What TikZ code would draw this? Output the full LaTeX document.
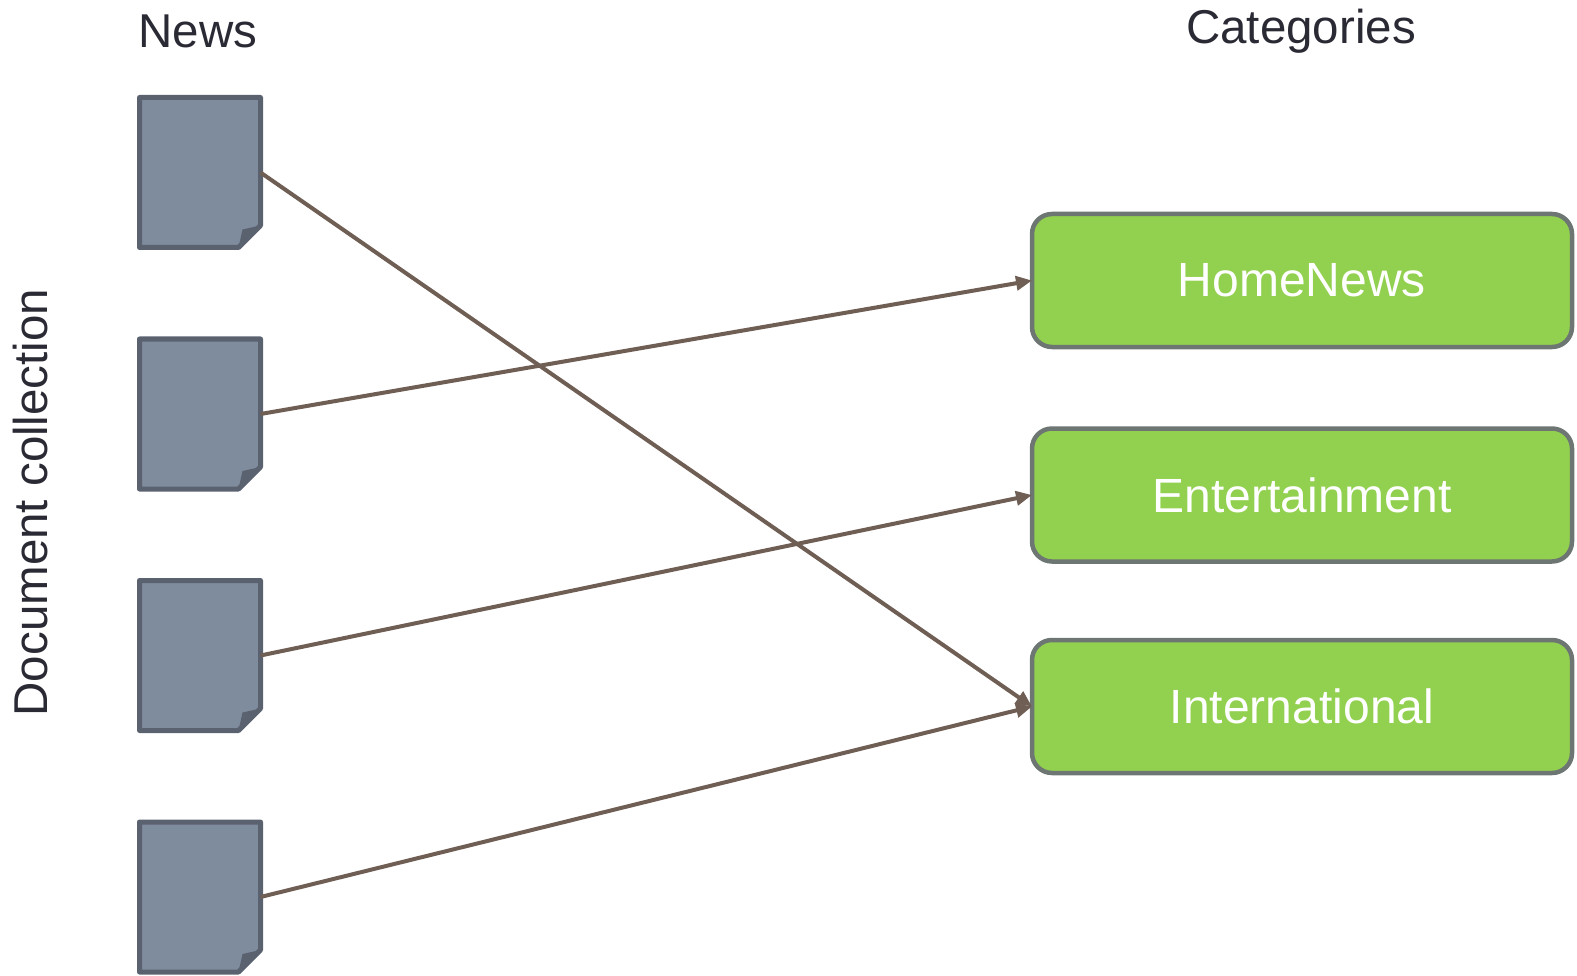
\documentclass[tikz,border=0pt]{standalone}
\usepackage{fontspec}
\setmainfont{Liberation Sans}
\usetikzlibrary{arrows.meta}
\definecolor{docfill}{HTML}{7F8C9E}
\definecolor{docline}{HTML}{5A6270}
\definecolor{catfill}{HTML}{92D050}
\definecolor{catline}{HTML}{6D7672}
\definecolor{linkcol}{HTML}{6F5E54}
\definecolor{titlecol}{HTML}{2A2A35}

\begin{document}
\begin{tikzpicture}[x=1pt, y=-1pt, every node/.style={inner sep=0pt, outer sep=0pt}]
	\tikzset{newsdoc/.style={minimum width=121pt, minimum height=150pt},
	         category/.style={draw=catline, line width=4.5pt, fill=catfill, rounded corners=20pt,
	                          minimum width=540pt, minimum height=133pt, text=white,
	                          font=\fontsize{48}{56}\selectfont},
	         title/.style={text=titlecol, font=\fontsize{47.5}{56}\selectfont},
	         link/.style={draw=linkcol, line width=4pt, -{Triangle[length=16pt, width=14pt]}}}
	\useasboundingbox (0,0) rectangle (1577,976);
	\node[title] (news) at (198,31.5) {News};
	\node[title] (cats) at (1301,31.5) {Categories};
	\node[title, rotate=90] (coll) at (31,502.5) {Document collection};
	\node[newsdoc] (d1) at (200,172.5) {};
	\node[newsdoc] (d2) at (200,414) {};
	\node[newsdoc] (d3) at (200,655.5) {};
	\node[newsdoc] (d4) at (200,897) {};
	\foreach \i in {1,...,4} {
		\draw[line width=5pt, draw=docline, fill=docfill, line join=round]
			(d\i.north west) -- (d\i.north east) -- ([yshift=22pt]d\i.south east)
			-- ([xshift=-22pt]d\i.south east) -- (d\i.south west) -- cycle;
		\fill[docline] ([yshift=22pt]d\i.south east) -- ([xshift=-18pt, yshift=18pt]d\i.south east)
			-- ([xshift=-22pt]d\i.south east) -- cycle;
	}
	\node[category] (home) at (1302,280.5) {HomeNews};
	\node[category] (ent)  at (1302,495) {Entertainment};
	\node[category] (intl) at (1302,706.5) {International};
	\draw[link] (d1.east) -- (intl.west);
	\draw[link] (d2.east) -- (home.west);
	\draw[link] (d3.east) -- (ent.west);
	\draw[link] (d4.east) -- (intl.west);
\end{tikzpicture}
\end{document}
